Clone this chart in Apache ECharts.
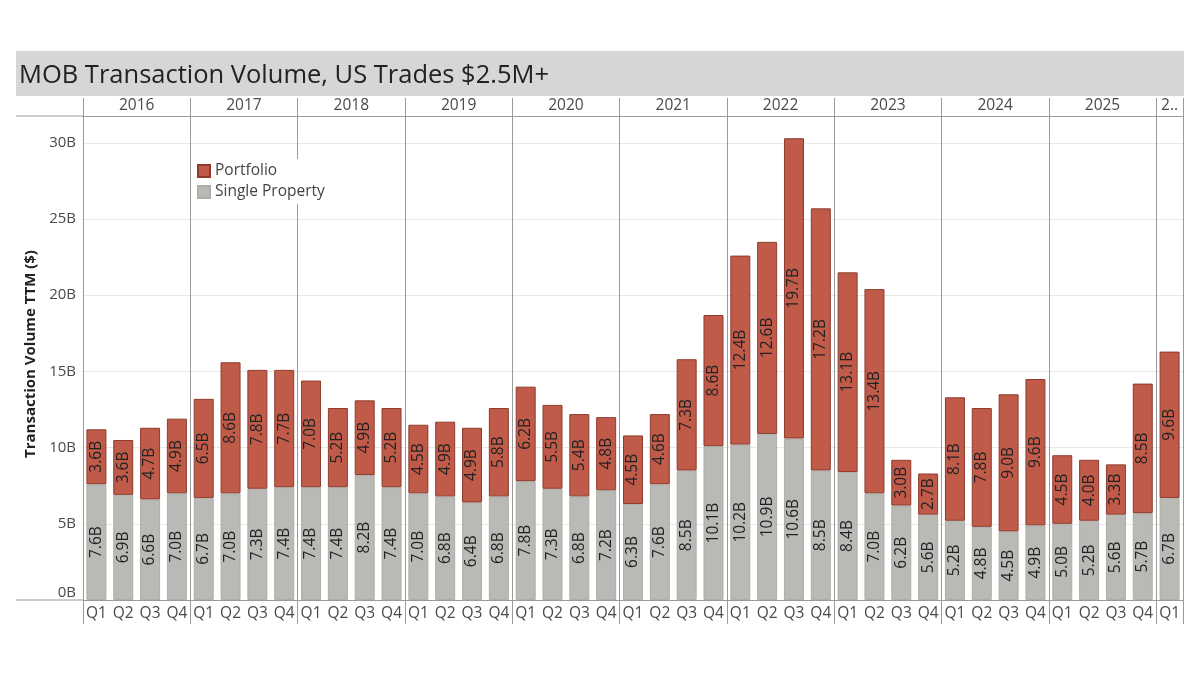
<!DOCTYPE html>
<html>
<head>
<meta charset="UTF-8">
<title>MOB Transaction Volume</title>
<script src="https://cdn.jsdelivr.net/npm/echarts@6/dist/echarts.min.js"></script>
<style>
html,body{margin:0;background:#fff;}
#chart{width:1200px;height:675px;}
</style>
</head>
<body>
<div id="chart"></div>
<script>

const years = ["2016","2017","2018","2019","2020","2021","2022","2023","2024","2025","2.."]
const quartersInYear = [4,4,4,4,4,4,4,4,4,4,1]

const quarters = [
 "Q1","Q2","Q3","Q4", "Q1","Q2","Q3","Q4", "Q1","Q2","Q3","Q4", "Q1","Q2","Q3","Q4",
 "Q1","Q2","Q3","Q4", "Q1","Q2","Q3","Q4", "Q1","Q2","Q3","Q4", "Q1","Q2","Q3","Q4",
 "Q1","Q2","Q3","Q4", "Q1","Q2","Q3","Q4", "Q1"
]

const portfolio = [
 3.6,3.6,4.7,4.9, 6.5,8.6,7.8,7.7, 7.0,5.2,4.9,5.2, 4.5,4.9,4.9,5.8,
 6.2,5.5,5.4,4.8, 4.5,4.6,7.3,8.6, 12.4,12.6,19.7,17.2, 13.1,13.4,3.0,2.7,
 8.1,7.8,9.0,9.6, 4.5,4.0,3.3,8.5, 9.6
]

const singleProperty = [
 7.6,6.9,6.6,7.0, 6.7,7.0,7.3,7.4, 7.4,7.4,8.2,7.4, 7.0,6.8,6.4,6.8,
 7.8,7.3,6.8,7.2, 6.3,7.6,8.5,10.1, 10.2,10.9,10.6,8.5, 8.4,7.0,6.2,5.6,
 5.2,4.8,4.5,4.9, 5.0,5.2,5.6,5.7, 6.7
]

const font = "'Open Sans', 'DejaVu Sans', sans-serif"
const lineGrey = "#9a9a9a"
const textGrey = "#4a4a4a"

// year bands, worked out from how many quarters each year has
const boundaries = [0]
const yearMiddles = []
quartersInYear.forEach(n => {
 const start = boundaries[boundaries.length-1]
 boundaries.push(start+n)
 yearMiddles.push(start+n/2)
})

function yearLabel(v){
 const i = yearMiddles.indexOf(v)
 return i<0 ? "" : years[i]
}

function barLabel(){
 return {
  show:true,
  position:"inside",
  rotate:90,
  fontFamily:font,
  fontSize:15.5,
  color:"#222",
  formatter:p => p.value.toFixed(1)+"B"
 }
}

const chart = echarts.init(document.getElementById("chart"))

chart.setOption({
 animation:false,
 backgroundColor:"#fff",
 title:{
  text:"MOB Transaction Volume, US Trades $2.5M+",
  left:19,
  top:63,
  padding:0,
  textStyle:{fontFamily:font,fontSize:25.5,fontWeight:"normal",color:"#222"}
 },
 graphic:[
  {type:"rect",z:-1,shape:{x:16,y:51,width:1168,height:45},style:{fill:"#d6d6d6"}},
  {type:"line",shape:{x1:16,y1:116,x2:83,y2:116},style:{stroke:lineGrey,lineWidth:1}},
  {type:"line",shape:{x1:16,y1:600,x2:83,y2:600},style:{stroke:lineGrey,lineWidth:1}}
 ],
 legend:{
  orient:"vertical",
  left:193,
  top:159,
  padding:[4,6,4,4],
  icon:"rect",
  itemWidth:12,
  itemHeight:12,
  itemGap:5,
  z:20,
  backgroundColor:"#fff",
  textStyle:{fontFamily:font,fontSize:15.5,color:"#444"},
  data:["Portfolio","Single Property"]
 },
 grid:{left:83,right:17,top:116,bottom:75},
 xAxis:[
  {
   type:"category",
   data:quarters,
   position:"bottom",
   axisLine:{lineStyle:{color:lineGrey}},
   axisTick:{show:false},
   axisLabel:{interval:0,margin:6,fontFamily:font,fontSize:15.5,color:textGrey}
  },
  {
   type:"value",
   position:"top",
   min:0,
   max:41,
   axisLine:{show:true,lineStyle:{color:lineGrey}},
   axisTick:{show:true,length:18,customValues:boundaries,lineStyle:{color:lineGrey}},
   splitLine:{show:true,lineStyle:{color:lineGrey}},
   axisLabel:{customValues:yearMiddles,margin:2,fontFamily:font,fontSize:15.5,color:textGrey,formatter:yearLabel}
  },
  {
   type:"value",
   position:"bottom",
   min:0,
   max:41,
   axisLine:{show:false},
   axisTick:{show:true,length:24,customValues:boundaries,lineStyle:{color:lineGrey}},
   splitLine:{show:false},
   axisLabel:{show:false}
  }
 ],
 yAxis:{
  type:"value",
  min:0,
  max:31.76,
  interval:5,
  name:"Transaction Volume TTM ($)",
  nameLocation:"middle",
  nameGap:40,
  nameTextStyle:{fontFamily:font,fontSize:15,fontWeight:"bold",color:"#222",padding:[0,0,0,8]},
  axisLine:{show:false},
  axisTick:{show:false},
  splitLine:{lineStyle:{color:"#e8e8e8"}},
  axisLabel:{
   margin:7,
   fontFamily:font,
   fontSize:15,
   color:textGrey,
   showMaxLabel:false,
   verticalAlignMinLabel:"bottom",
   formatter:v => v+"B"
  }
 },
 series:[
  {
   name:"Single Property",
   type:"bar",
   stack:"total",
   barWidth:20,
   data:singleProperty,
   itemStyle:{color:"#b9bab5",borderColor:"#adaeaa",borderWidth:1},
   label:barLabel()
  },
  {
   name:"Portfolio",
   type:"bar",
   stack:"total",
   barWidth:20,
   data:portfolio,
   itemStyle:{color:"#c05b49",borderColor:"#8e3b2d",borderWidth:1},
   label:barLabel()
  }
 ]
})

</script>
</body>
</html>
